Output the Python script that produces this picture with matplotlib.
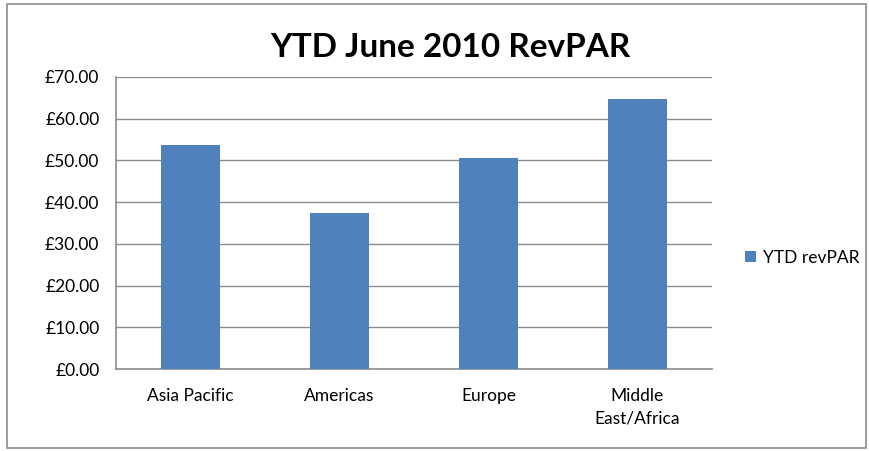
import matplotlib.pyplot as plt
from matplotlib.patches import Rectangle
from matplotlib.ticker import FuncFormatter

regions = ["Asia Pacific", "Americas", "Europe", "Middle\nEast/Africa"]
revpar = [53.7, 37.3, 50.6, 64.8]
series_name = "YTD revPAR"

plt.rcParams['font.family'] = ['Lato', 'DejaVu Sans']

fig = plt.figure(figsize=(8.69, 4.51), dpi=100)
ax = fig.add_axes([0.1335, 0.1818, 0.6858, 0.6475])

bars = ax.bar(range(len(regions)), revpar, width=0.4, color="#4F81BD",
              label=series_name, zorder=3)

ax.set_xlim(-0.5, len(regions) - 0.5)
ax.set_ylim(0, 70)
ax.set_yticks(range(0, 71, 10))
ax.yaxis.set_major_formatter(FuncFormatter(lambda v, p: "£%.2f" % v))
ax.set_xticks(range(len(regions)))
ax.set_xticklabels(regions, fontsize=12.5, linespacing=1.45)
ax.tick_params(axis='y', labelsize=12.5, length=0, pad=12)
ax.tick_params(axis='x', length=0, pad=14)
ax.grid(axis='y', color="#8c8c8c", linewidth=1, zorder=0)

for s in ["top", "right"]:
    ax.spines[s].set_visible(False)
for s in ["left", "bottom"]:
    ax.spines[s].set_color("#8c8c8c")
    ax.spines[s].set_linewidth(1.2)

fig.text(0.518, 0.895, "YTD June 2010 RevPAR", ha="center", va="center",
         fontsize=24, fontweight="bold")

ax.legend(loc="center left", bbox_to_anchor=(1.03, 0.38), frameon=False,
          fontsize=12.5, handlelength=0.6, handleheight=0.6, handletextpad=0.4)

fig.patches.append(Rectangle((0.008, 0.006), 0.988, 0.985, transform=fig.transFigure,
                             fill=False, edgecolor="#8c8c8c", linewidth=1.2))

fig.savefig("out.png", dpi=100)
